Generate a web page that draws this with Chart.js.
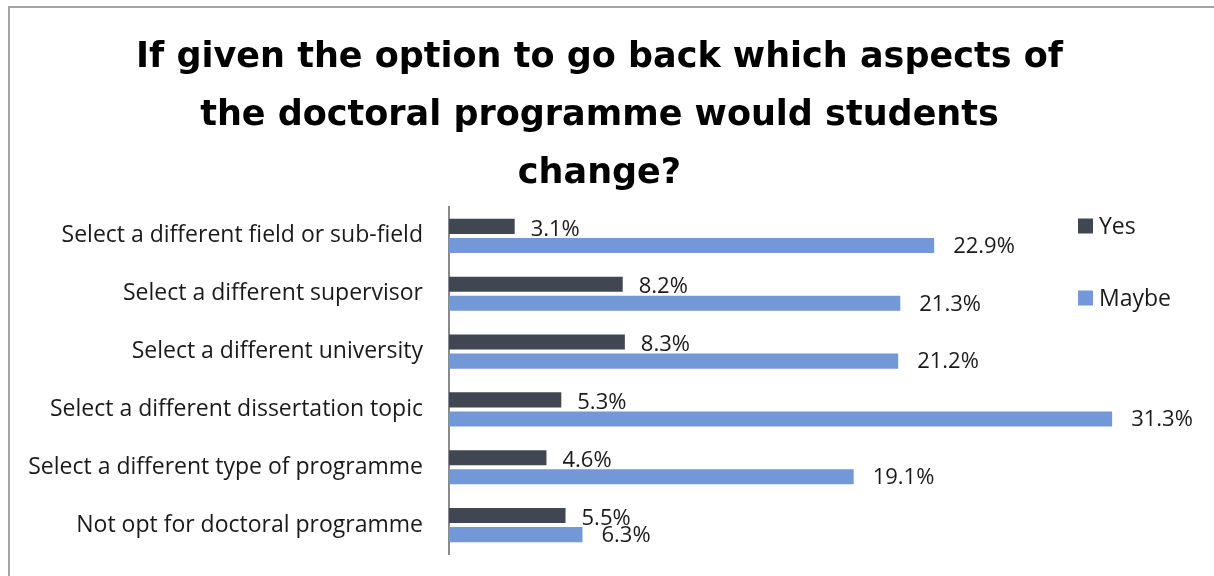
<!DOCTYPE html>
<html><head><meta charset="utf-8">
<script src="https://cdn.jsdelivr.net/npm/chart.js@4.4.1/dist/chart.umd.min.js"></script>
<style>html,body{margin:0;padding:0;background:#fff;}canvas{display:block;}</style>
</head><body>
<canvas id="c" width="1214" height="576"></canvas>
<script>
const categories = [
  "Select a different field or sub-field",
  "Select a different supervisor",
  "Select a different university",
  "Select a different dissertation topic",
  "Select a different type of programme",
  "Not opt for doctoral programme"
];
const yesValues = [3.1, 8.2, 8.3, 5.3, 4.6, 5.5];
const maybeValues = [22.9, 21.3, 21.2, 31.3, 19.1, 6.3];
const seriesNames = ["Yes", "Maybe"];
const seriesColors = ["#404652", "#7398d8"];
const titleLines = [
  "If given the option to go back which aspects of",
  "the doctoral programme would students",
  "change?"
];

const labelFont = "'Open Sans', sans-serif";

const framePlugin = {
  id: 'frame',
  beforeDraw(chart) {
    const ctx = chart.ctx;
    ctx.save();
    ctx.fillStyle = '#ffffff';
    ctx.fillRect(0, 0, chart.width, chart.height);
    ctx.strokeStyle = '#a3a3a3';
    ctx.lineWidth = 2;
    ctx.beginPath();
    ctx.moveTo(9, chart.height);
    ctx.lineTo(9, 7);
    ctx.lineTo(chart.width, 7);
    ctx.stroke();
    ctx.restore();
  }
};

const valueLabelPlugin = {
  id: 'valueLabels',
  afterDatasetsDraw(chart) {
    const ctx = chart.ctx;
    ctx.save();
    ctx.font = "22px " + labelFont;
    ctx.fillStyle = '#1a1a1a';
    ctx.textAlign = 'left';
    ctx.textBaseline = 'middle';
    const gaps = [16, 19];
    const dy = [3, 1];
    chart.data.datasets.forEach((ds, di) => {
      const meta = chart.getDatasetMeta(di);
      meta.data.forEach((bar, i) => {
        ctx.fillText(ds.data[i].toFixed(1) + '%', bar.x + gaps[di], bar.y + dy[di]);
      });
    });
    ctx.restore();
  }
};

const legendPlugin = {
  id: 'customLegend',
  afterDraw(chart) {
    const ctx = chart.ctx;
    ctx.save();
    ctx.font = "23px " + labelFont;
    ctx.textBaseline = 'middle';
    ctx.textAlign = 'left';
    const x = 1078;
    const ys = [226, 298];
    seriesNames.forEach((name, i) => {
      ctx.fillStyle = seriesColors[i];
      ctx.fillRect(x, ys[i] - 7.5, 15, 15);
      ctx.fillStyle = '#1a1a1a';
      ctx.fillText(name, x + 21, ys[i] + 1);
    });
    ctx.restore();
  }
};

new Chart(document.getElementById('c'), {
  type: 'bar',
  data: {
    labels: categories,
    datasets: [
      { label: seriesNames[0], data: yesValues, backgroundColor: seriesColors[0],
        borderWidth: 0, categoryPercentage: 0.66, barPercentage: 0.79 },
      { label: seriesNames[1], data: maybeValues, backgroundColor: seriesColors[1],
        borderWidth: 0, categoryPercentage: 0.66, barPercentage: 0.79 }
    ]
  },
  options: {
    indexAxis: 'y',
    responsive: false,
    animation: false,
    devicePixelRatio: 1,
    layout: { padding: { top: 0, bottom: 22, left: 0, right: 15 } },
    plugins: {
      legend: { display: false },
      tooltip: { enabled: false },
      title: {
        display: true,
        text: titleLines,
        color: '#000000',
        font: { family: "'DejaVu Sans', sans-serif", size: 35, weight: 'bold', lineHeight: 58/35 },
        padding: { top: 29, bottom: 4 }
      }
    },
    scales: {
      x: { display: false, min: 0, max: 35.4 },
      y: {
        afterFit(scale) { scale.width = 449; scale.paddingTop = 0; scale.paddingBottom = 0; },
        grid: { display: false, drawTicks: false },
        border: { display: true, color: '#8a8a8a', width: 2 },
        ticks: { color: '#1a1a1a', font: { family: labelFont, size: 23 }, padding: 26, autoSkip: false }
      }
    }
  },
  plugins: [framePlugin, valueLabelPlugin, legendPlugin]
});
</script>
</body></html>
